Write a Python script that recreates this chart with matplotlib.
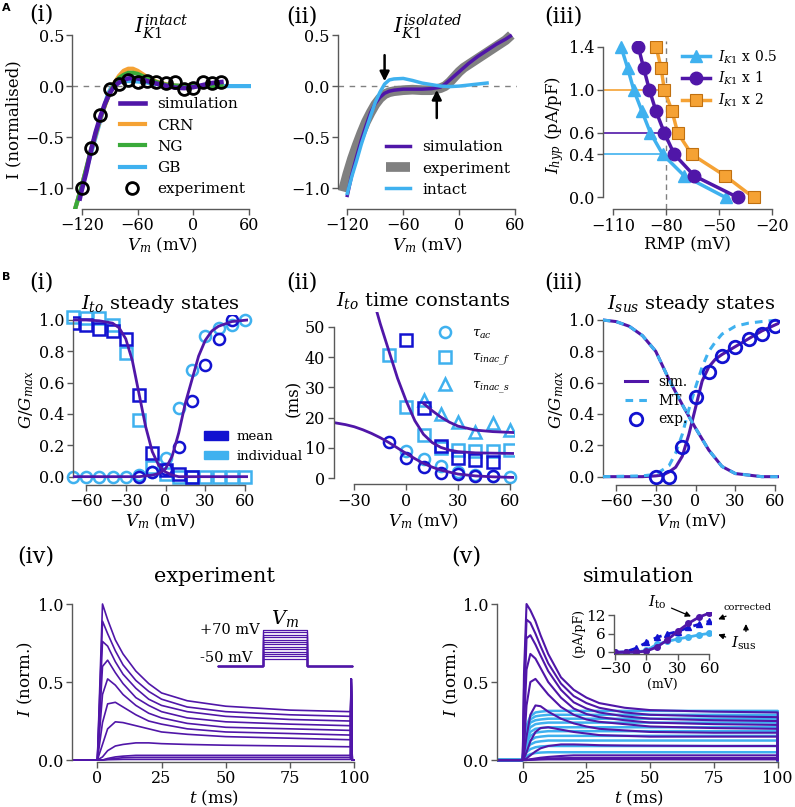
import matplotlib.pyplot as plt
from matplotlib.patches import Patch

plt.rcParams['font.family'] = ['DejaVu Serif']
plt.rcParams['mathtext.fontset'] = 'dejavuserif'

PURPLE = '#5016a8'
LBLUE = '#3fb1ef'
DBLUE = '#1212d0'
ORANGE = '#f5a234'
GREEN = '#3aaa3a'
GREY = '#808080'

# ---------------- data: A(i) intact IK1 ----------------
ai_exp_v = [-120, -110, -100, -90, -80, -70, -60, -50, -40, -30, -20, -10, 0, 10, 20, 30]
ai_exp_i = [-1.0, -0.61, -0.28, -0.03, 0.02, 0.06, 0.04, 0.05, 0.04, 0.03, 0.04, -0.03, -0.02, 0.04, 0.03, 0.04]
ai_sim_v = [-122, -120, -115, -110, -105, -100, -95, -90, -85, -80, -75, -70, -65, -60, -55, -50,
            -40, -30, -20, -10, 0, 10, 20, 30]
ai_sim_i = [-1.10, -1.02, -0.84, -0.63, -0.45, -0.30, -0.17, -0.07, 0.0, 0.035, 0.06, 0.075, 0.08, 0.075,
            0.065, 0.05, 0.025, 0.005, -0.015, -0.02, -0.01, 0.01, 0.03, 0.04]
ai_crn_v = [-127, -120, -110, -100, -95, -90, -85, -80, -75, -70, -65, -60, -55, -50, -40, -30, -20, -10, 0, 10, 20, 30]
ai_crn_i = [-1.2, -0.98, -0.63, -0.32, -0.19, -0.07, 0.03, 0.10, 0.15, 0.17, 0.17, 0.15, 0.12, 0.09,
            0.045, 0.02, 0.005, 0, 0, 0, 0, 0]
ai_ng_i = [-1.2, -0.98, -0.62, -0.31, -0.18, -0.07, 0.02, 0.08, 0.11, 0.13, 0.13, 0.12, 0.10, 0.08,
           0.04, 0.015, 0.005, 0, 0, 0, 0, 0]
ai_gb_v = [-127, -92, -88, -84, -80, -75, -70, -60, -50, -40, -30, -20, -10, 0, 60]
ai_gb_i = [-1.2, -0.08, -0.01, 0.02, 0.035, 0.045, 0.05, 0.045, 0.035, 0.02, 0.01, 0.005, 0, 0, 0]

# ---------------- data: A(ii) isolated IK1 ----------------
aii_exp_v = [-125, -120, -115, -110, -105, -100, -95, -90, -85, -80, -75, -70, -60, -50, -40, -30, -20,
             -15, -10, -5, 0, 5, 10, 20, 30, 40, 50, 56]
aii_exp_i = [-1.03, -0.86, -0.71, -0.58, -0.46, -0.35, -0.26, -0.18, -0.12, -0.08, -0.06, -0.05, -0.04,
             -0.035, -0.04, -0.04, -0.02, 0.0, 0.04, 0.09, 0.14, 0.18, 0.21, 0.27, 0.33, 0.39, 0.45, 0.50]
aii_sim_v = [-120, -115, -110, -105, -100, -95, -90, -85, -80, -75, -70, -60, -50, -40, -30, -20, -15,
             -10, -5, 0, 10, 20, 30, 40, 50, 55]
aii_sim_i = [-1.07, -0.86, -0.69, -0.53, -0.39, -0.26, -0.17, -0.11, -0.07, -0.05, -0.04, -0.03, -0.03,
             -0.03, -0.025, -0.01, 0.02, 0.06, 0.10, 0.14, 0.22, 0.29, 0.35, 0.41, 0.46, 0.49]
aii_int_v = [-120, -115, -110, -105, -100, -95, -90, -85, -80, -75, -70, -60, -50, -40, -30, -20, -10, 0, 10, 20, 30]
aii_int_i = [-1.05, -0.88, -0.73, -0.57, -0.43, -0.29, -0.16, -0.06, 0.02, 0.06, 0.07, 0.075, 0.055,
             0.03, 0.015, 0.0, -0.005, 0.0, 0.01, 0.02, 0.03]

# ---------------- data: A(iii) RMP vs Ihyp ----------------
ihyp = [1.4, 1.2, 1.0, 0.8, 0.6, 0.4, 0.2, 0.0]
rmp_half = [-105.6, -101.8, -98.4, -93.7, -88.9, -81.9, -69.6, -46.2]
rmp_one = [-95.8, -92.7, -89.5, -85.7, -81.0, -75.3, -63.9, -39.2]
rmp_two = [-85.7, -82.8, -81.0, -76.6, -73.4, -65.4, -46.4, -30.3]

# ---------------- data: B(i) Ito steady states ----------------
inact_mean_v = [-70, -60, -50, -40, -30, -20, -10, 0, 10, 20]
inact_mean_g = [0.98, 0.97, 0.94, 0.93, 0.88, 0.52, 0.15, 0.04, 0.02, 0.0]
inact_ind_v = [-70, -60, -50, -40, -30, -20, -10, 0, 10, 20, 30, 40, 50, 60]
inact_ind_g = [1.02, 1.01, 1.01, 0.97, 0.79, 0.36, 0.06, 0.02, 0.0, 0.0, 0.0, 0.0, 0.0, 0.0]
act_mean_v = [-20, -10, 0, 10, 20, 30, 40, 50]
act_mean_g = [0.0, 0.03, 0.05, 0.19, 0.48, 0.71, 0.88, 1.0]
act_ind_v = [-70, -60, -50, -40, -30, -20, -10, 0, 10, 20, 30, 40, 50, 60]
act_ind_g = [0, 0, 0, 0, 0, 0.01, 0.03, 0.12, 0.44, 0.68, 0.90, 0.95, 0.97, 1.0]
inact_sim_v = [-70, -60, -50, -40, -35, -30, -25, -20, -15, -10, -5, 0, 5, 10, 20, 62]
inact_sim_g = [1.0, 1.0, 0.995, 0.98, 0.95, 0.88, 0.74, 0.53, 0.32, 0.16, 0.07, 0.03, 0.01, 0.0, 0.0, 0.0]
act_sim_v = [-70, -20, -10, -5, 0, 5, 10, 15, 20, 25, 30, 35, 40, 50, 62]
act_sim_g = [0.0, 0.0, 0.01, 0.02, 0.05, 0.13, 0.28, 0.47, 0.62, 0.77, 0.87, 0.93, 0.96, 0.99, 1.0]

# ---------------- data: B(ii) Ito time constants ----------------
tac_mean_v = [-10, 0, 10, 20, 30, 40, 50]
tac_mean = [12.1, 6.6, 3.8, 1.6, 1.3, 0.8, 0.8]
tac_ind_v = [0, 10, 20, 30, 40, 50, 60]
tac_ind = [9.0, 6.3, 4.1, 2.2, 1.1, 0.9, 0.5]
tif_mean_v = [0, 10, 20, 30, 40, 50]
tif_mean = [45.6, 23.1, 10.7, 6.6, 6.0, 5.5]
tif_ind_v = [-10, 0, 10, 20, 30, 40, 50, 60]
tif_ind = [40.7, 23.6, 14.3, 9.9, 9.3, 9.1, 9.0, 9.3]
tis_ind_v = [10, 20, 30, 40, 50, 60]
tis_ind = [25.8, 21.2, 18.7, 15.4, 18.1, 15.9]
tif_sim_v = [-17, -15, -10, -5, 0, 5, 10, 15, 20, 25, 30, 40, 50, 62]
tif_sim = [55, 51, 42, 33, 25.5, 19, 14.5, 11.8, 10.2, 9.3, 8.8, 8.4, 8.3, 8.2]
tis_sim_v = [10, 15, 20, 25, 30, 40, 50, 62]
tis_sim = [24.7, 22.3, 20.2, 18.5, 17.2, 15.9, 15.4, 15.1]
tac_sim_v = [-42, -35, -30, -25, -20, -15, -10, -5, 0, 5, 10, 15, 20, 30, 40, 50, 62]
tac_sim = [18.4, 17.7, 17.0, 16.0, 14.8, 13.4, 11.8, 10.0, 8.2, 6.5, 4.9, 3.7, 2.7, 1.4, 0.8, 0.5, 0.3]

# ---------------- data: B(iii) Isus steady states ----------------
sus_inact_v = [-70, -60, -50, -40, -30, -20, -10, 0, 10, 20, 30, 40, 50, 63]
sus_inact_g = [1.0, 0.99, 0.96, 0.90, 0.80, 0.62, 0.46, 0.31, 0.17, 0.065, 0.02, 0.01, 0.0, 0.0]
sus_sim_v = [-70, -40, -30, -25, -20, -15, -10, -5, 0, 5, 10, 15, 20, 30, 40, 50, 63]
sus_sim_g = [0, 0, 0.005, 0.01, 0.03, 0.06, 0.13, 0.27, 0.44, 0.61, 0.70, 0.75, 0.78, 0.83, 0.88, 0.93, 0.98]
sus_mt_v = [-70, -40, -30, -20, -15, -10, -5, 0, 5, 10, 15, 20, 30, 40, 50, 63]
sus_mt_g = [0, 0.005, 0.015, 0.07, 0.15, 0.27, 0.43, 0.57, 0.70, 0.80, 0.86, 0.91, 0.96, 0.98, 0.99, 1.0]
sus_exp_v = [-30, -20, -10, 0, 10, 20, 30, 40, 50, 60]
sus_exp_g = [0.0, 0.0, 0.19, 0.51, 0.67, 0.77, 0.83, 0.88, 0.91, 0.96]

# ---------------- data: B(iv) experimental traces ----------------
t_exp = [-10, 0, 2, 4, 7, 10, 15, 20, 25, 35, 50, 75, 98.6, 98.9, 99.3, 100]
exp_traces = [
    [0, 0, 1.00, 0.90, 0.77, 0.68, 0.57, 0.49, 0.43, 0.38, 0.345, 0.32, 0.31, 0.52, 0, 0],
    [0, 0, 0.89, 0.81, 0.70, 0.61, 0.51, 0.44, 0.39, 0.34, 0.31, 0.29, 0.28, 0.52, 0, 0],
    [0, 0, 0.76, 0.73, 0.63, 0.55, 0.46, 0.39, 0.35, 0.31, 0.28, 0.26, 0.25, 0.52, 0, 0],
    [0, 0, 0.60, 0.64, 0.56, 0.49, 0.40, 0.35, 0.31, 0.27, 0.245, 0.23, 0.22, 0.52, 0, 0],
    [0, 0, 0.42, 0.52, 0.48, 0.42, 0.35, 0.30, 0.27, 0.235, 0.21, 0.20, 0.19, 0.52, 0, 0],
    [0, 0, 0.24, 0.36, 0.37, 0.34, 0.29, 0.25, 0.23, 0.20, 0.18, 0.17, 0.16, 0.52, 0, 0],
    [0, 0, 0.10, 0.20, 0.245, 0.24, 0.22, 0.20, 0.18, 0.165, 0.15, 0.14, 0.13, 0.52, 0, 0],
    [0, 0, 0.02, 0.06, 0.09, 0.10, 0.11, 0.11, 0.105, 0.10, 0.095, 0.09, 0.085, 0.52, 0, 0],
    [0, 0, 0.0, 0.01, 0.02, 0.025, 0.03, 0.03, 0.03, 0.03, 0.03, 0.03, 0.03, 0.52, 0, 0],
    [0, 0, 0.0, 0.005, 0.01, 0.015, 0.017, 0.017, 0.017, 0.017, 0.017, 0.017, 0.017, 0.52, 0, 0],
    [0, 0, 0.0, 0.002, 0.003, 0.004, 0.004, 0.004, 0.004, 0.004, 0.004, 0.004, 0.004, 0.52, 0, 0],
]
step_levels = [-50, -40, -30, -20, -10, 0, 10, 20, 30, 40, 50, 60, 70]
step_t = [0, 100, 100, 200, 200, 300]
holding = -80

# ---------------- data: B(v) simulated traces ----------------
t_sim = [-10, 0, 0.5, 1.5, 3, 5, 7, 10, 15, 20, 25, 30, 40, 50, 75, 100, 100]
sim_total = [
    [0, 0, 0.55, 1.00, 0.96, 0.89, 0.80, 0.68, 0.53, 0.45, 0.40, 0.365, 0.335, 0.32, 0.31, 0.305, 0],
    [0, 0, 0.45, 0.90, 0.88, 0.81, 0.73, 0.62, 0.49, 0.41, 0.365, 0.335, 0.305, 0.29, 0.28, 0.275, 0],
    [0, 0, 0.33, 0.78, 0.80, 0.74, 0.67, 0.57, 0.45, 0.37, 0.33, 0.305, 0.28, 0.265, 0.255, 0.25, 0],
    [0, 0, 0.20, 0.58, 0.68, 0.65, 0.59, 0.50, 0.40, 0.33, 0.295, 0.275, 0.255, 0.24, 0.23, 0.225, 0],
    [0, 0, 0.08, 0.35, 0.50, 0.52, 0.48, 0.42, 0.34, 0.29, 0.26, 0.245, 0.23, 0.215, 0.205, 0.20, 0],
    [0, 0, 0.03, 0.15, 0.29, 0.35, 0.345, 0.31, 0.265, 0.235, 0.215, 0.20, 0.19, 0.18, 0.175, 0.175, 0],
    [0, 0, 0.01, 0.05, 0.12, 0.18, 0.205, 0.21, 0.195, 0.18, 0.17, 0.16, 0.155, 0.15, 0.15, 0.15, 0],
    [0, 0, 0.0, 0.01, 0.03, 0.055, 0.075, 0.09, 0.10, 0.10, 0.098, 0.095, 0.093, 0.092, 0.09, 0.09, 0],
    [0, 0, 0.0, 0.0, 0.005, 0.01, 0.015, 0.02, 0.026, 0.03, 0.03, 0.03, 0.03, 0.03, 0.03, 0.03, 0],
    [0, 0, 0.0, 0.0, 0.002, 0.005, 0.008, 0.01, 0.012, 0.013, 0.013, 0.013, 0.013, 0.013, 0.013, 0.013, 0],
    [0, 0, 0.0, 0.0, 0.001, 0.002, 0.003, 0.004, 0.004, 0.004, 0.004, 0.004, 0.004, 0.004, 0.004, 0.004, 0],
]
sim_sus = [
    [0, 0, 0.11, 0.22, 0.28, 0.305, 0.31, 0.315, 0.315, 0.315, 0.315, 0.315, 0.315, 0.315, 0.315, 0.315, 0],
    [0, 0, 0.10, 0.20, 0.26, 0.28, 0.285, 0.29, 0.29, 0.29, 0.29, 0.29, 0.29, 0.29, 0.29, 0.29, 0],
    [0, 0, 0.09, 0.18, 0.24, 0.255, 0.26, 0.265, 0.265, 0.265, 0.265, 0.265, 0.265, 0.265, 0.265, 0.265, 0],
    [0, 0, 0.08, 0.16, 0.21, 0.23, 0.235, 0.24, 0.24, 0.24, 0.24, 0.24, 0.24, 0.24, 0.24, 0.24, 0],
    [0, 0, 0.06, 0.13, 0.18, 0.20, 0.205, 0.21, 0.21, 0.21, 0.21, 0.21, 0.21, 0.21, 0.21, 0.21, 0],
    [0, 0, 0.05, 0.11, 0.155, 0.175, 0.18, 0.185, 0.185, 0.185, 0.185, 0.185, 0.185, 0.185, 0.185, 0.185, 0],
    [0, 0, 0.04, 0.09, 0.125, 0.145, 0.15, 0.155, 0.155, 0.155, 0.155, 0.155, 0.155, 0.155, 0.155, 0.155, 0],
    [0, 0, 0.03, 0.07, 0.10, 0.115, 0.12, 0.125, 0.125, 0.125, 0.125, 0.125, 0.125, 0.125, 0.125, 0.125, 0],
    [0, 0, 0.02, 0.05, 0.07, 0.082, 0.087, 0.09, 0.09, 0.09, 0.09, 0.09, 0.09, 0.09, 0.09, 0.09, 0],
    [0, 0, 0.01, 0.025, 0.038, 0.045, 0.048, 0.05, 0.05, 0.05, 0.05, 0.05, 0.05, 0.05, 0.05, 0.05, 0],
]

# inset of B(v): I-V curves
iv_v = [-30, -20, -10, 0, 10, 20, 30, 40, 50, 60]
iv_ito = [0, 0, 0.05, 0.4, 1.7, 4.0, 6.8, 9.3, 11.3, 12.6]
iv_corr = [0, 0.2, 1.3, 3.2, 4.8, 5.9, 6.7, 8.0, 9.0, 10.0]
iv_sus = [0, 0, 0.1, 0.6, 2.6, 3.5, 4.3, 4.9, 5.6, 6.1]

# ---------------- figure ----------------
W, H = 795, 807
fig = plt.figure(figsize=(W / 100, H / 100), dpi=100)


def add_ax(left, top, right, bottom):
    return fig.add_axes([left / W, 1 - bottom / H, (right - left) / W, (bottom - top) / H])


def style(ax, xticks, yticks, xlim, ylim, size=11.5):
    ax.set_xlim(xlim)
    ax.set_ylim(ylim)
    ax.set_xticks(xticks)
    ax.set_yticks(yticks)
    for s in ['top', 'right']:
        ax.spines[s].set_visible(False)
    for s in ['left', 'bottom']:
        ax.spines[s].set_color('0.35')
        ax.spines[s].set_linewidth(1)
    ax.spines['bottom'].set_bounds(xticks[0], xticks[-1])
    ax.spines['left'].set_bounds(yticks[0], yticks[-1])
    ax.tick_params(direction='out', length=4, width=1, color='0.35', labelsize=size, pad=2)
    ax.patch.set_visible(False)


def ftext(x, y, s, **kw):
    fig.text(x / W, 1 - y / H, s, ha='center', va='center', **kw)


# panel letters
ftext(6, 8, 'A', fontsize=8, fontweight='bold', family='DejaVu Sans')
ftext(6, 277, 'B', fontsize=8, fontweight='bold', family='DejaVu Sans')
for x, y, s in [(41, 14, '(i)'), (302, 17, '(ii)'), (563, 17, '(iii)'),
                (41, 283, '(i)'), (302, 283, '(ii)'), (563, 283, '(iii)'),
                (36, 557, '(iv)'), (466, 557, '(v)')]:
    ftext(x, y, s, fontsize=16)

# ---- A(i)
ax = add_ax(72.4, 29.9, 251.2, 208.7)
style(ax, [-120, -60, 0, 60], [-1.0, -0.5, 0.0, 0.5], (-130, 62), (-1.2, 0.55))
ax.axhline(0, color=GREY, ls='--', lw=1, dashes=(4, 4), zorder=0)
ax.plot(ai_gb_v, ai_gb_i, color=LBLUE, lw=3, label='GB', zorder=2)
ax.plot(ai_crn_v, ai_crn_i, color=ORANGE, lw=3, label='CRN', zorder=2)
ax.plot(ai_crn_v, ai_ng_i, color=GREEN, lw=3, label='NG', zorder=2)
ax.plot(ai_sim_v, ai_sim_i, color=PURPLE, lw=3.3, label='simulation', zorder=3)
ax.plot(ai_exp_v, ai_exp_i, 'o', mfc='none', mec='black', mew=2, ms=8.5, label='experiment', zorder=4)
hs, ls = ax.get_legend_handles_labels()
order = [3, 1, 2, 0, 4]
ax.legend([hs[i] for i in order], [ls[i] for i in order], loc='upper left',
          bbox_to_anchor=(0.225, 0.665), frameon=False, fontsize=11, borderpad=0,
          handlelength=1.6, handletextpad=0.8, labelspacing=0.47)
ax.set_xlabel('$V_m$ (mV)', fontsize=12, labelpad=1)
ax.set_ylabel('I (normalised)', fontsize=12, labelpad=2)
ax.text(0.5, 1.02, '$I_{K1}^{intact}$', transform=ax.transAxes, ha='center', va='center', fontsize=15)

# ---- A(ii)
ax = add_ax(338.0, 29.9, 516.9, 208.7)
style(ax, [-120, -60, 0, 60], [-1.0, -0.5, 0.0, 0.5], (-130, 62), (-1.2, 0.55))
ax.axhline(0, color=GREY, ls='--', lw=1, dashes=(4, 4), zorder=0)
ax.plot(aii_exp_v, aii_exp_i, color=GREY, lw=7, solid_capstyle='butt', label='experiment', zorder=1)
ax.plot(aii_int_v, aii_int_i, color=LBLUE, lw=2.5, label='intact', zorder=3)
ax.plot(aii_sim_v, aii_sim_i, color=PURPLE, lw=2.5, label='simulation', zorder=2)
ax.annotate('', xy=(-80, 0.02), xytext=(-80, 0.33),
            arrowprops=dict(arrowstyle='-|>', color='black', lw=1.8, mutation_scale=14))
ax.annotate('', xy=(-24, -0.01), xytext=(-24, -0.34),
            arrowprops=dict(arrowstyle='-|>', color='black', lw=1.8, mutation_scale=14))
hs, ls = ax.get_legend_handles_labels()
order = [2, 0, 1]
ax.legend([hs[i] for i in order], [ls[i] for i in order], loc='upper left',
          bbox_to_anchor=(0.225, 0.425), frameon=False, fontsize=11, borderpad=0,
          handlelength=1.6, handletextpad=0.8, labelspacing=0.47)
ax.set_xlabel('$V_m$ (mV)', fontsize=12, labelpad=1)
ax.text(0.5, 1.02, '$I_{K1}^{isolated}$', transform=ax.transAxes, ha='center', va='center', fontsize=15)

# ---- A(iii)
ax = add_ax(602.7, 41.3, 771.7, 209.3)
style(ax, [-110, -80, -50, -20], [0.0, 0.4, 0.6, 1.0, 1.4], (-116, -20), (-0.11, 1.45))
ax.axvline(-80, color=GREY, ls='--', lw=1, dashes=(4, 3), zorder=0)
ax.plot([-116, rmp_two[2]], [ihyp[2], ihyp[2]], color=ORANGE, lw=1.2, zorder=1)
ax.plot([-116, rmp_one[4]], [ihyp[4], ihyp[4]], color=PURPLE, lw=1.2, zorder=1)
ax.plot([-116, rmp_half[5]], [ihyp[5], ihyp[5]], color=LBLUE, lw=1.2, zorder=1)
ax.plot(rmp_half, ihyp, '-^', color=LBLUE, lw=2.5, ms=9, mec=LBLUE, label='$I_{K1}$ x 0.5', zorder=2)
ax.plot(rmp_one, ihyp, '-o', color=PURPLE, lw=2.5, ms=9, label='$I_{K1}$ x 1', zorder=3)
ax.plot(rmp_two, ihyp, '-s', color=ORANGE, lw=2.5, ms=8.5, mec='#c07010', mew=0.8,
        label='$I_{K1}$ x 2', zorder=2)
ax.legend(loc='upper left', bbox_to_anchor=(0.43, 1.0), frameon=False, fontsize=10, borderpad=0,
          handlelength=2.0, handletextpad=0.6, labelspacing=0.3, numpoints=1)
ax.set_xlabel('RMP (mV)', fontsize=12, labelpad=1)
ax.set_ylabel('$I_{hyp}$ (pA/pF)', fontsize=12, labelpad=2)

# ---- B(i)
ax = add_ax(72.75, 315.3, 247.65, 484.5)
style(ax, [-60, -30, 0, 30, 60], [0.0, 0.2, 0.4, 0.6, 0.8, 1.0], (-70, 62), (-0.05, 1.03))
ax.plot(inact_ind_v, inact_ind_g, 's', mfc='none', mec=LBLUE, mew=1.8, ms=8, clip_on=False, zorder=2)
ax.plot(act_ind_v, act_ind_g, 'o', mfc='none', mec=LBLUE, mew=1.8, ms=8, clip_on=False, zorder=2)
ax.plot(inact_mean_v, inact_mean_g, 's', mfc='none', mec=DBLUE, mew=1.8, ms=8, zorder=3)
ax.plot(act_mean_v, act_mean_g, 'o', mfc='none', mec=DBLUE, mew=1.8, ms=8, zorder=3)
ax.plot(inact_sim_v, inact_sim_g, color=PURPLE, lw=2, zorder=4)
ax.plot(act_sim_v, act_sim_g, color=PURPLE, lw=2, zorder=4)
ax.legend([Patch(color=DBLUE), Patch(color=LBLUE)], ['mean', 'individual'], loc='upper left',
          bbox_to_anchor=(0.715, 0.36), frameon=False, fontsize=9.5, borderpad=0,
          handlelength=1.8, handleheight=0.6, handletextpad=0.6, labelspacing=0.5)
ax.set_xlabel('$V_m$ (mV)', fontsize=12, labelpad=1)
ax.set_ylabel('$G/G_{max}$', fontsize=12, labelpad=2)
ax.set_title('$I_{to}$ steady states', fontsize=14, pad=4)

# ---- B(ii)
ax = add_ax(333.5, 311.5, 513.5, 484.4)
style(ax, [-30, 0, 30, 60], [0, 10, 20, 30, 40, 50], (-42, 62), (-2, 55))
ax.plot(tac_ind_v, tac_ind, 'o', mfc='none', mec=LBLUE, mew=1.8, ms=8, clip_on=False, label=r'$\tau_{ac}$')
ax.plot(tif_ind_v, tif_ind, 's', mfc='none', mec=LBLUE, mew=1.8, ms=8, label=r'$\tau_{inac\_f}$')
ax.plot(tis_ind_v, tis_ind, '^', mfc='none', mec=LBLUE, mew=1.8, ms=9, label=r'$\tau_{inac\_s}$')
ax.plot(tac_mean_v, tac_mean, 'o', mfc='none', mec=DBLUE, mew=1.8, ms=8)
ax.plot(tif_mean_v, tif_mean, 's', mfc='none', mec=DBLUE, mew=1.8, ms=8)
ax.plot(tif_sim_v, tif_sim, color=PURPLE, lw=2)
ax.plot(tis_sim_v, tis_sim, color=PURPLE, lw=2)
ax.plot(tac_sim_v, tac_sim, color=PURPLE, lw=2)
ax.legend(loc='upper left', bbox_to_anchor=(0.53, 0.95), frameon=False, fontsize=9.5, borderpad=0,
          handlelength=1.5, handletextpad=1.3, labelspacing=0.8, numpoints=1)
ax.set_xlabel('$V_m$ (mV)', fontsize=12, labelpad=1)
ax.set_ylabel('(ms)', fontsize=12, labelpad=2)
ax.set_title('$I_{to}$ time constants', fontsize=14, pad=4)

# ---- B(iii)
ax = add_ax(602.75, 315.3, 779.0, 484.5)
style(ax, [-60, -30, 0, 30, 60], [0.0, 0.2, 0.4, 0.6, 0.8, 1.0], (-70, 63), (-0.05, 1.03))
ax.plot(sus_inact_v, sus_inact_g, color=PURPLE, lw=2.2, zorder=2)
ax.plot(sus_inact_v, sus_inact_g, color=LBLUE, lw=2.2, ls=(0, (2.5, 2)), zorder=3)
ax.plot(sus_sim_v, sus_sim_g, color=PURPLE, lw=2.2, label='sim.', zorder=2)
ax.plot(sus_mt_v, sus_mt_g, color=LBLUE, lw=2.2, ls=(0, (2.5, 2)), label='MT', zorder=3)
ax.plot(sus_exp_v, sus_exp_g, 'o', mfc='none', mec=DBLUE, mew=2, ms=9, label='exp.', zorder=4)
ax.legend(loc='upper left', bbox_to_anchor=(0.085, 0.69), frameon=False, fontsize=10, borderpad=0,
          handlelength=1.6, handletextpad=0.8, labelspacing=0.35, numpoints=1)
ax.set_xlabel('$V_m$ (mV)', fontsize=12, labelpad=1)
ax.set_ylabel('$G/G_{max}$', fontsize=12, labelpad=2)
ax.set_title('$I_{sus}$ steady states', fontsize=14, pad=4)

# ---- B(iv)
ax = add_ax(71.7, 596.2, 356.6, 761.6)
style(ax, [0, 25, 50, 75, 100], [0.0, 0.5, 1.0], (-10, 101), (-0.01, 1.05))
for tr in exp_traces:
    ax.plot(t_exp, tr, color=PURPLE, lw=1.2)
ax.set_xlabel('$t$ (ms)', fontsize=12, labelpad=1)
ax.set_ylabel('$I$ (norm.)', fontsize=12, labelpad=2)
ax.set_title('experiment', fontsize=15, pad=10)
ins = add_ax(218, 630, 352, 666)
for v in step_levels:
    ins.plot(step_t, [holding, holding, v, v, holding, holding], color=PURPLE, lw=0.9, clip_on=False)
ins.set_xlim(0, 300)
ins.set_ylim(holding, 70)
ins.axis('off')
ins.text(94, 70, '+70 mV', ha='right', va='center', fontsize=10.5)
ins.text(78, -45, '-50 mV', ha='right', va='center', fontsize=10.5)
ins.text(150, 118, '$V_m$', ha='center', va='center', fontsize=14)

# ---- B(v)
ax = add_ax(497.2, 596.2, 780.3, 761.6)
style(ax, [0, 25, 50, 75, 100], [0.0, 0.5, 1.0], (-10, 101), (-0.01, 1.05))
for tr in sim_sus:
    ax.plot(t_sim, tr, color=LBLUE, lw=1.8)
for tr in sim_total:
    ax.plot(t_sim, tr, color=PURPLE, lw=1.5)
ax.set_xlabel('$t$ (ms)', fontsize=12, labelpad=1)
ax.set_ylabel('$I$ (norm.)', fontsize=12, labelpad=2)
ax.set_title('simulation', fontsize=15, pad=10)

ins = add_ax(614.0, 611.9, 711.4, 653.9)
style(ins, [-30, 0, 30, 60], [0, 6, 12], (-31, 62), (-0.5, 13), size=11)
ins.plot(iv_v, iv_sus, '-o', color=LBLUE, lw=2, ms=4)
ins.plot(iv_v, iv_corr, '--^', color=DBLUE, lw=2, ms=4, dashes=(3, 2))
ins.plot(iv_v, iv_ito, '-o', color=PURPLE, lw=2, ms=4)
ins.set_xlabel('(mV)', fontsize=9, labelpad=1)
ins.set_ylabel('(pA/pF)', fontsize=9, labelpad=1)
arw = dict(arrowstyle='-|>', color='black', lw=0.9, mutation_scale=8)
ins.annotate(r'$I_{\rm to}$', xy=(45, 11.2), xytext=(10, 16.2), fontsize=11, ha='center', va='center',
             arrowprops=arw, annotation_clip=False)
ins.annotate('corrected', xy=(66, 10.3), xytext=(96, 14.3), fontsize=7, ha='center', va='center',
             arrowprops=arw, annotation_clip=False)
ins.annotate('', xy=(95, 10.0), xytext=(95, 5.8), arrowprops=arw, annotation_clip=False)
ins.annotate(r'$I_{\rm sus}$', xy=(66, 6.0), xytext=(93, 3.0), fontsize=11, ha='center', va='center',
             arrowprops=arw, annotation_clip=False)

fig.savefig('out.png', dpi=100)
